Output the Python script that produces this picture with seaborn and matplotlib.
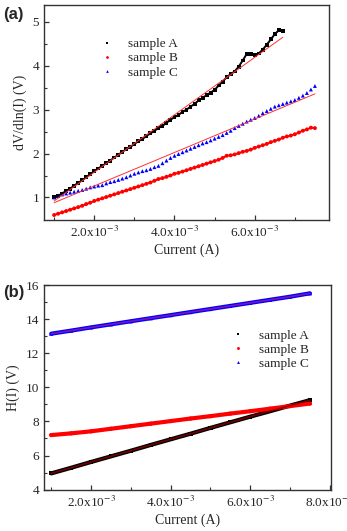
import numpy as np
import pandas as pd
import matplotlib
matplotlib.use("Agg")
import matplotlib.pyplot as plt
import seaborn as sns
from matplotlib.ticker import FixedLocator, FixedFormatter

# ---- panel (a): dV/dln(I) vs current, current in mA ----
current_a = [1.0, 1.1, 1.2, 1.3, 1.4, 1.5, 1.6, 1.7, 1.8, 1.9,
             2.0, 2.1, 2.2, 2.3, 2.4, 2.5, 2.6, 2.7, 2.8, 2.9,
             3.0, 3.1, 3.2, 3.3, 3.4, 3.5, 3.6, 3.7, 3.8, 3.9,
             4.0, 4.1, 4.2, 4.3, 4.4, 4.5, 4.6, 4.7, 4.8, 4.9,
             5.0, 5.1, 5.2, 5.3, 5.4, 5.5, 5.6, 5.7, 5.8, 5.9,
             6.0, 6.1, 6.2, 6.3, 6.4, 6.5, 6.6, 6.7, 6.8, 6.9,
             7.0, 7.1, 7.2, 7.3, 7.4, 7.5]

dv_sample_a = [1.00, 1.04, 1.09, 1.15, 1.20, 1.27, 1.33, 1.39, 1.46, 1.53,
               1.60, 1.66, 1.72, 1.78, 1.84, 1.91, 1.97, 2.04, 2.10, 2.15,
               2.22, 2.28, 2.33, 2.40, 2.46, 2.52, 2.58, 2.63, 2.70, 2.77,
               2.83, 2.88, 2.95, 3.00, 3.07, 3.13, 3.21, 3.27, 3.33, 3.39,
               3.45, 3.55, 3.64, 3.74, 3.81, 3.87, 3.98, 4.12, 4.27, 4.27,
               4.25, 4.28, 4.37, 4.48, 4.60, 4.72, 4.81, 4.79]

dv_sample_b = [0.60, 0.63, 0.66, 0.69, 0.72, 0.75, 0.78, 0.81, 0.85, 0.88,
               0.92, 0.95, 0.98, 1.01, 1.04, 1.07, 1.10, 1.13, 1.16, 1.19,
               1.22, 1.25, 1.28, 1.31, 1.34, 1.38, 1.42, 1.44, 1.47, 1.50,
               1.54, 1.56, 1.59, 1.62, 1.65, 1.68, 1.71, 1.74, 1.77, 1.80,
               1.83, 1.86, 1.90, 1.95, 1.96, 1.98, 2.01, 2.04, 2.06, 2.09,
               2.13, 2.16, 2.19, 2.22, 2.26, 2.29, 2.32, 2.36, 2.39, 2.41,
               2.44, 2.48, 2.52, 2.55, 2.59, 2.58]

dv_sample_c = [1.00, 1.04, 1.07, 1.09, 1.11, 1.13, 1.15, 1.17, 1.20, 1.23,
               1.25, 1.27, 1.28, 1.32, 1.35, 1.37, 1.40, 1.43, 1.46, 1.50,
               1.54, 1.57, 1.60, 1.62, 1.65, 1.69, 1.72, 1.78, 1.84, 1.90,
               1.95, 1.99, 2.03, 2.07, 2.11, 2.15, 2.19, 2.23, 2.26, 2.30,
               2.34, 2.38, 2.42, 2.47, 2.52, 2.58, 2.63, 2.68, 2.73, 2.77,
               2.81, 2.86, 2.92, 2.97, 3.02, 3.07, 3.10, 3.13, 3.16, 3.19,
               3.22, 3.27, 3.32, 3.38, 3.46, 3.54]

# linear fits drawn in (a): end points (mA, V)
fit_a_x = [1.0, 6.7]
fit_a_y = [0.92, 4.65]
fit_c_x = [1.0, 7.5]
fit_c_y = [0.88, 3.36]

# ---- panel (b): H(I) vs current, current in mA ----
current_b = [1.0, 1.5, 2.0, 2.5, 3.0, 3.5, 4.0, 4.5, 5.0, 5.5, 6.0, 6.5, 7.0, 7.5]
h_sample_a = [4.95, 5.28, 5.62, 5.95, 6.28, 6.62, 6.95, 7.28, 7.62, 7.95, 8.28, 8.60, 8.93, 9.25]
h_sample_b = [7.20, 7.30, 7.42, 7.57, 7.72, 7.87, 8.02, 8.17, 8.31, 8.46, 8.60, 8.75, 8.90, 9.05]
h_sample_c = [13.15, 13.33, 13.52, 13.70, 13.88, 14.06, 14.24, 14.42, 14.60, 14.78, 14.96, 15.14, 15.32, 15.52]

samples = ["sample A", "sample B", "sample C"]
palette = {"sample A": "black", "sample B": "red", "sample C": "blue"}
markers = {"sample A": "s", "sample B": "o", "sample C": "^"}


def long_frame(x_ma, series):
    rows = []
    for name, vals in zip(samples, series):
        for x, v in zip(x_ma, vals):
            rows.append((x * 1e-3, v, name))
    return pd.DataFrame(rows, columns=["current", "value", "sample"])


df_a = long_frame(current_a, [dv_sample_a, dv_sample_b, dv_sample_c])
df_b = long_frame(current_b, [h_sample_a, h_sample_b, h_sample_c])

sns.set_style("ticks")
plt.rcParams["font.family"] = ["Liberation Serif", "DejaVu Serif"]
plt.rcParams["mathtext.fontset"] = "stix"
plt.rcParams["xtick.direction"] = "in"
plt.rcParams["ytick.direction"] = "in"

fig = plt.figure(figsize=(3.47, 5.31), dpi=100)
ax1 = fig.add_axes([0.127, 0.586, 0.821, 0.405])
ax2 = fig.add_axes([0.127, 0.078, 0.827, 0.385])

# panel (a)
sns.lineplot(data=df_a[df_a["sample"] != "sample C"], x="current", y="value",
             hue="sample", palette=palette, lw=1.4, legend=False, ax=ax1)
sns.scatterplot(data=df_a, x="current", y="value", hue="sample", style="sample",
                palette=palette, markers=markers, s=8, linewidth=0, ax=ax1)
ax1.plot(np.array(fit_a_x) * 1e-3, fit_a_y, color="#ff3030", lw=0.7)
ax1.plot(np.array(fit_c_x) * 1e-3, fit_c_y, color="#ff3030", lw=0.7)

# panel (b)
sns.lineplot(data=df_b, x="current", y="value", hue="sample", palette=palette,
             lw=3.0, legend=False, ax=ax2)
sns.scatterplot(data=df_b, x="current", y="value", hue="sample", style="sample",
                palette=palette, markers=markers, s=9, linewidth=0, ax=ax2)
ax2.plot(np.array(current_b) * 1e-3, h_sample_a, color="#8b0000", lw=1.2, alpha=0.8)
ax2.plot(np.array(current_b) * 1e-3, h_sample_c, color="#cc2288", lw=1.2, alpha=0.6)


def sci_labels(vals):
    return [r"%.1fx10$^{-3}$" % v for v in vals]


for ax in (ax1, ax2):
    for side in ["top", "right", "bottom", "left"]:
        ax.spines[side].set_visible(True)
        ax.spines[side].set_color("#333333")
        ax.spines[side].set_linewidth(1.0)
    ax.tick_params(which="major", length=3.5, width=0.9, labelsize=9.5, color="#333333")
    ax.tick_params(which="minor", length=2, width=0.8, color="#333333")
    ax.set_xlabel("Current (A)", fontsize=10, labelpad=3)
    ax.xaxis.set_minor_locator(FixedLocator([1e-3, 3e-3, 5e-3, 7e-3]))

ax1.set_xlim(0.75e-3, 7.85e-3)
ax1.set_ylim(0.49, 5.39)
ax1.xaxis.set_major_locator(FixedLocator([2e-3, 4e-3, 6e-3]))
ax1.xaxis.set_major_formatter(FixedFormatter(sci_labels([2.0, 4.0, 6.0])))
ax1.set_yticks([1, 2, 3, 4, 5])
ax1.yaxis.set_minor_locator(FixedLocator([1.5, 2.5, 3.5, 4.5]))
ax1.set_ylabel("dV/dln(I) (V)", fontsize=10, labelpad=4)
ax1.legend(frameon=False, loc="upper left", bbox_to_anchor=(0.155, 0.87),
           fontsize=9.5, handletextpad=0.6, labelspacing=0.15, borderaxespad=0,
           markerscale=0.7, title=None)

ax2.set_xlim(0.82e-3, 8.03e-3)
ax2.set_ylim(4, 16)
ax2.xaxis.set_major_locator(FixedLocator([2e-3, 4e-3, 6e-3, 8e-3]))
ax2.xaxis.set_major_formatter(FixedFormatter(sci_labels([2.0, 4.0, 6.0, 8.0])))
ax2.set_yticks([4, 6, 8, 10, 12, 14, 16])
ax2.yaxis.set_minor_locator(FixedLocator([5, 7, 9, 11, 13, 15]))
ax2.set_ylabel("H(I) (V)", fontsize=10, labelpad=4)
ax2.legend(frameon=False, loc="upper left", bbox_to_anchor=(0.61, 0.81),
           fontsize=9.5, handletextpad=0.6, labelspacing=0.15, borderaxespad=0,
           markerscale=0.7, title=None)

fig.text(0.01, 0.965, "(a)", fontsize=12, fontweight="bold", family="Liberation Sans")
fig.text(0.01, 0.44, "(b)", fontsize=12, fontweight="bold", family="Liberation Sans")

fig.savefig("out.png", dpi=100)
